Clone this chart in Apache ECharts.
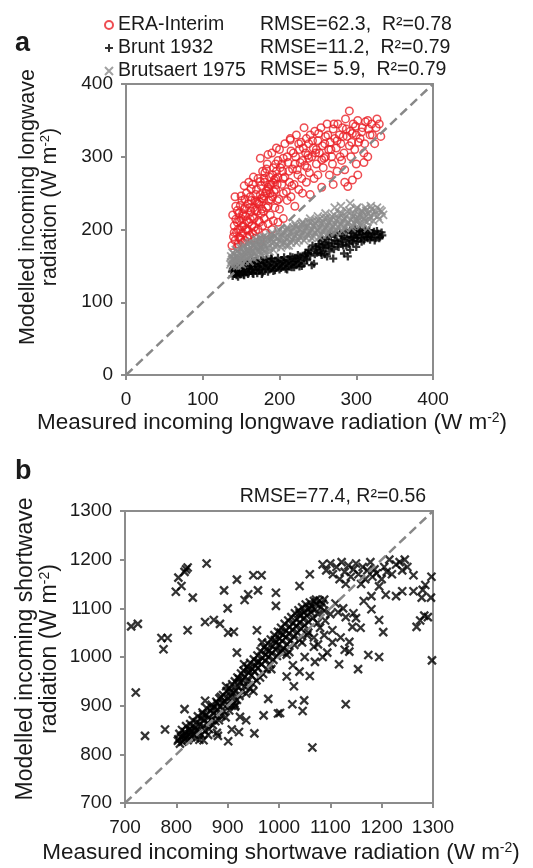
<!DOCTYPE html>
<html>
<head>
<meta charset="utf-8">
<script src="https://cdn.jsdelivr.net/npm/echarts@6.0.0/dist/echarts.min.js"></script>
<style>
html,body{margin:0;padding:0;background:#fff;}
#chart{width:533px;height:868px;}
</style>
</head>
<body>
<div id="chart"></div>
<script>
// ---------- Panel a: longwave (measured x, modelled y) ----------
const ticksA = [0, 100, 200, 300, 400];
const eraInterim = [
[138,178],[140,190],[141,205],[142,185],[143,232],[144,196],[145,210],[146,180],[147,222],[148,200],[149,188],[150,215],[151,240],[152,195],[153,205],[154,228],[155,185],[156,218],[157,250],[158,200],[159,235],[160,210],[161,192],[162,245],[163,225],[164,205],[165,262],[166,230],[167,215],[168,240],[169,198],[170,255],[171,225],[172,270],[173,235],[174,210],[175,248],[176,260],[177,228],[178,280],[179,242],[180,215],[181,265],[182,250],[183,230],[184,290],[185,258],[186,240],[187,272],[188,220],[189,262],[190,305],[191,245],[192,285],[193,268],[194,230],[195,255],[196,280],[197,240],[198,295],
[142,245],[150,246],[139,220],[183,283],[214,323],[145,176],[152,182],[158,190],[165,195],[172,200],[178,205],[185,208],[146,200],[155,230],[163,240],[170,238],[176,222],[168,188],[160,178],[152,222],[180,270],[188,250],[195,270],
[141,196],[143,214],[145,226],[147,189],[149,233],[151,204],[153,219],[155,242],[157,212],[159,198],[161,230],[163,256],[165,218],[167,203],[169,248],[171,236],[173,212],[175,266],[177,243],[179,225],[181,278],[183,253],[185,232],[187,262],[189,241],[191,275],[193,252],[195,290],[197,262],[199,242],[201,285],[203,262],[205,298],[207,272],[209,252],[211,292],[213,265],[215,308],[217,283],[219,262],[221,300],[223,282],[225,318],[227,292],[229,270],[231,312],[233,288],[235,325],[237,302],[239,278],[150,186],[156,200],[162,214],[168,226],[174,238],[180,246],[186,255],[192,264],[198,272],[204,280],[154,260],[160,265],[166,272],[175,298],[185,303],[196,312],[175,185],[182,195],[192,212],[148,212],
[200,310],[203,290],[205,270],[207,318],[210,300],[212,280],[214,325],[216,260],[218,305],[220,290],[222,330],[224,275],[226,310],[228,320],[230,295],[232,340],[234,305],[236,285],[238,318],[240,330],[242,300],[244,312],[246,335],[248,290],[250,322],[252,305],[254,340],[256,315],[258,298],[260,328],[262,345],[264,310],[266,320],[268,300],[270,338],[272,325],[274,312],[276,345],[278,330],[280,318],[282,340],[284,305],[286,352],[288,328],[291,363],[292,335],[294,320],[296,345],[298,310],[300,330],[302,350],[305,325],[308,340],[310,305],[312,348],[315,350],[318,330],[320,345],[324,318],[327,352],[332,328],
[243,322],[247,305],[251,332],[255,296],[259,318],[263,330],[267,310],[271,345],[275,322],[279,300],[283,328],[287,338],[291,315],[295,332],[299,342],[303,320],[307,334],[311,318],[316,338],[321,330],[326,340],[330,345],[257,285],[269,290],[281,295],[293,300],
[205,250],[215,245],[225,255],[235,265],[245,270],[255,258],[265,275],[275,280],[285,265],[289,259],[295,268],[302,275],[300,290],[310,292],[315,300],[285,282],[270,262],[250,275],[210,240],[220,232],[230,250],[240,248],[200,228],[205,215],[198,210],[190,200],[260,300],[248,310],[238,298]
];
const brunt1932 = [
[138,142],[139,136],[140,147],[141,139],[142,144],[143,150],[144,137],[145,143],[146,148],[147,140],[148,152],[149,138],[150,145],[151,149],[152,141],[153,154],[154,137],[155,146],[156,151],[157,142],[158,155],[159,139],[160,147],[162,152],[163,143],[164,156],[165,140],[166,149],[168,153],[169,144],[170,157],[171,140],[172,148],[174,154],[175,145],[176,158],[178,141],[179,150],[180,155],[182,146],[183,159],[185,142],[186,151],[188,156],[189,147],[190,160],[192,143],[193,152],[195,157],[196,148],[198,161],[200,145],[201,153],[203,158],[204,149],[206,162],[208,146],[209,154],[211,159],[212,150],[214,163],[216,148],[218,155],[220,160],[222,151],[224,165],[226,149],[228,157],[230,162],[232,153],[234,168],[236,158],[238,172],[240,164],[242,151],[245,153],[247,176],[249,168],[251,180],[253,171],[255,184],[257,175],[259,166],[261,187],[263,178],[265,170],[267,190],[269,181],[271,173],[273,193],[275,184],[277,176],[279,195],[281,186],[283,178],[284,167],[286,197],[288,188],[289,163],[290,180],[292,199],[294,190],[296,182],[298,201],[300,192],[302,184],[304,198],[306,188],[308,194],[310,185],[312,200],[314,190],[316,196],[318,186],[320,193],[323,197],[325,188],[328,194],[331,190],[334,192],[300,176],[292,172],[270,160],[262,163],[255,165],
[139,145],[141,150],[143,141],[146,135],[148,146],[150,152],[153,138],[155,143],[157,155],[160,141],[161,150],[164,146],[166,139],[167,157],[170,150],[173,144],[175,152],[177,139],[179,158],[181,148],[184,153],[187,145],[189,160],[191,150],[194,144],[197,155],[199,150],[202,147],[205,156],[207,152],[210,145],[213,157],[215,152],[217,162],[219,148],[221,156],[223,160],[225,154],[227,163],[229,150],[233,165],[235,160],[237,167],[241,170],[243,178],[246,166],[248,173],[252,177],[254,168],[256,186],[258,180],[260,174],[264,182],[266,192],[268,176],[272,185],[274,196],[276,180],[280,192],[282,183],[285,190],[287,178],[291,186],[293,195],[295,184],[297,190],[299,197],[301,188],[303,193],[305,200],[307,183],[309,197],[311,190],[313,195],[315,188],[317,199],[319,190],[321,195],[324,185],[327,198],[330,188],[333,196]
];
const brutsaert1975 = [
[136,152],[137,163],[138,158],[139,168],[140,150],[141,160],[142,155],[143,172],[144,162],[145,150],[146,158],[147,168],[148,154],[149,175],[150,160],[151,152],[152,170],[153,163],[154,178],[155,157],[156,166],[157,172],[158,160],[159,180],[160,168],[161,156],[162,175],[163,164],[164,183],[165,170],[166,160],[167,178],[168,167],[169,186],[170,174],[171,162],[172,180],[173,170],[174,188],[175,176],[176,165],[177,184],[178,172],[179,190],[180,178],[182,168],[184,186],[186,175],[188,193],[190,182],[192,172],[194,190],[196,180],[198,196],[200,185],[202,175],[204,192],[206,182],[208,199],[210,188],[212,178],[214,196],[216,186],[218,203],[220,192],[222,182],[224,200],[226,190],[228,207],[230,196],[232,185],[234,203],[236,193],[238,210],[240,198],[242,188],[244,205],[246,195],[248,212],[250,200],[252,190],[254,208],[256,197],[258,215],[260,203],[262,193],[264,210],[266,200],[268,218],[270,205],[272,196],[274,213],[276,203],[278,222],[280,208],[282,198],[284,215],[286,205],[288,225],[290,210],[292,236],[294,202],[296,218],[298,208],[300,228],[302,212],[304,220],[306,205],[308,224],[310,215],[312,230],[314,210],[316,222],[318,218],[320,228],[322,212],[325,225],[328,218],[331,227],[335,220],[272,230],[280,232],[260,222],[250,218],[300,215],[315,202],[240,215],[230,210],[220,208],[210,203],
[137,155],[139,160],[141,166],[143,158],[145,170],[147,162],[149,156],[151,165],[153,175],[155,168],[157,163],[159,172],[161,182],[163,170],[165,178],[167,168],[169,176],[171,185],[173,177],[175,170],[177,188],[179,180],[181,172],[183,190],[185,181],[187,170],[189,186],[191,195],[193,183],[195,176],[197,188],[199,200],[201,190],[203,180],[205,196],[207,188],[209,178],[211,200],[213,190],[215,182],[217,198],[219,188],[221,205],[223,195],[225,185],[227,200],[229,192],[231,208],[233,198],[235,188],[237,205],[239,195],[241,210],[243,200],[245,190],[247,208],[249,198],[251,213],[253,203],[255,193],[257,210],[259,200],[261,216],[263,206],[265,196],[267,213],[269,203],[271,220],[273,208],[275,198],[277,216],[279,206],[281,222],[283,212],[285,202],[287,218],[289,208],[291,226],[293,214],[295,205],[297,222],[299,212],[301,230],[303,216],[305,208],[307,226],[309,218],[311,212],[313,226],[317,214],[319,232],[323,220],[327,230],[330,214],[333,225]
];
const oneToOneA = [[0,0],[400,400]];

// ---------- Panel b: shortwave ----------
const ticksB = [700, 800, 900, 1000, 1100, 1200, 1300];
const shortwave = [
[803,828],[806,842],[807,822],[809,835],[811,850],[812,826],[814,838],[816,831],[817,846],[819,858],[821,836],[822,829],[824,850],[826,842],[827,862],[829,835],[831,848],[832,870],[834,841],[836,856],[837,833],[839,866],[841,851],[842,878],[844,845],[846,862],[848,873],[849,840],[851,886],[853,858],[854,870],[856,848],[858,880],[859,895],[861,864],[863,876],[864,852],[866,890],[868,871],[869,902],[871,860],[873,884],[874,896],[876,868],[878,908],[879,880],[881,892],[883,870],[884,915],[886,898],[888,879],[889,905],[891,922],[893,888],[894,910],[896,876],[898,930],[899,902],[901,915],[903,890],[904,936],[906,918],[908,900],[909,944],[911,926],[913,905],[914,950],[916,931],[918,912],[919,958],[921,938],[923,920],[924,947],[926,966],[928,930],[929,953],[931,972],[933,940],[934,960],[936,925],[938,980],[939,950],[941,968],[943,935],[944,988],[946,962],[948,975],[949,945],[951,995],[953,970],[954,982],[956,952],[958,1003],[959,978],[961,990],[963,958],[964,1012],[966,985],[968,998],[969,965],[971,1020],[973,992],[974,1005],[976,975],[978,1028],[979,1000],[981,1013],[983,985],[984,1036],[986,1008],[988,1022],[989,994],[991,1045],[993,1015],[994,1030],[996,1002],[998,1052],[999,1025],[1001,1038],[1003,1010],[1004,1060],[1006,1033],[1008,1046],[1009,1018],[1011,1068],[1013,1040],[1014,1055],[1016,1026],[1018,1075],[1019,1048],[1021,1062],[1023,1034],[1024,1082],[1026,1055],[1028,1070],[1029,1042],[1031,1090],[1033,1063],[1035,1078],[1036,1050],[1038,1096],[1040,1070],[1042,1085],[1043,1058],[1045,1102],[1047,1078],[1049,1092],[1050,1065],[1052,1108],[1054,1085],[1056,1098],[1058,1072],[1060,1112],[1062,1092],[1064,1104],[1066,1080],[1068,1115],[1070,1098],[1073,1108],[1076,1088],[1079,1116],[1082,1102],[1085,1110],[1088,1095],
[845,830],[862,840],[880,905],[897,940],[915,900],[932,985],[950,930],[967,1030],[985,975],[1003,1050],[1020,1010],[1040,1035],[1057,1050],[1075,1070],[1005,1012],[1015,1005],[1030,1025],[1045,1030],[1055,1045],[1068,1040],[1080,1060],[1090,1075],[1072,1118],[1088,1118],[1060,1100],[1040,1090],[818,840],[826,852],[838,848],[852,882],[870,895],[887,918],[905,928],[922,955],[940,975],[957,990],[975,1015],[992,1035],
[853,829],[879,844],[881,838],[901,827],[908,851],[922,846],[936,870],[952,843],[979,914],[998,884],[856,910],[816,893],[804,831],[778,851],[739,838],[721,927],[918,1009],[957,1055],[912,1052],[901,1050],[885,1068],[873,1076],[856,1072],[822,1055],[775,1016],[771,1039],[783,1039],[725,1068],[712,1063],[994,1105],[994,1132],[900,1100],[933,1117],[940,1129],[959,1137],[893,1137],[950,1168],[966,1168],[918,1159],[832,1122],[799,1134],[810,1146],[804,1163],[819,1180],[822,1184],[816,1175],[859,1192],[924,877],[914,898],[970,880],
[1100,1088],[1115,1092],[1130,1082],[1145,1090],[1150,1080],[1143,1062],[1159,1060],[1137,1031],[1137,1011],[1117,985],[1154,975],[1174,1004],[1195,1000],[1094,1009],[1104,1030],[1088,1045],[1104,1055],[1068,1021],[1076,1026],[1128,1015],[1060,961],[1029,940],[1026,903],[1046,889],[1049,911],[1130,903],[1065,814],[1027,983],[1002,885],[1110,1110],[1125,1100],[1165,1115],[1180,1098],[1120,1040],[1085,1000],[1070,990],[1050,1000],[1040,970],[1015,960],[1180,1125],[1060,1170],[1040,1146],
[1085,1190],[1092,1178],[1100,1192],[1105,1170],[1112,1185],[1118,1160],[1122,1195],[1128,1175],[1130,1150],[1135,1188],[1140,1165],[1145,1180],[1150,1192],[1155,1170],[1160,1150],[1163,1185],[1168,1160],[1172,1178],[1178,1195],[1182,1165],[1186,1180],[1190,1172],[1195,1145],[1200,1160],[1205,1185],[1210,1175],[1215,1200],[1220,1170],[1228,1190],[1235,1195],[1240,1178],[1245,1200],[1250,1185],[1262,1168],[1240,1135],[1262,1135],[1280,1138],[1278,1122],[1296,1122],[1290,1082],[1268,1062],[1283,1085],[1275,1075],[1297,1165],[1285,1148],[1228,1125],[1208,1128],[1195,1076],[1203,1051],[1298,993]
];
const oneToOneB = [[700,700],[1300,1300]];

const legendNames = ['ERA-Interim', 'Brunt 1932', 'Brutsaert 1975'];
const statsA = ['RMSE=62.3,  R\u00B2=0.78', 'RMSE=11.2,  R\u00B2=0.79', 'RMSE= 5.9,  R\u00B2=0.79'];
const statsB = 'RMSE=77.4, R\u00B2=0.56';

const FONT = 'Liberation Sans, Arial, sans-serif';
const AX = '#8c8c8c';
const TXT = '#1a1a1a';
const PLUS = 'path://M5,0L5,10M0,5L10,5';
const CROSS = 'path://M0,0L10,10M10,0L0,10';

function axis(grid, min, max, interval, margin) {
  return {
    type: 'value', gridIndex: grid, min: min, max: max, interval: interval,
    axisLine: {show: true, lineStyle: {color: AX, width: 2}},
    axisTick: {show: true, inside: false, length: 5, lineStyle: {color: AX, width: 2}},
    axisLabel: {fontSize: 19, color: TXT, fontFamily: FONT, margin: margin, formatter: function (v) { return String(v); }},
    splitLine: {show: false}
  };
}

function richOf(size) {
  return {
    t: {fontSize: size, fontFamily: FONT, color: TXT, lineHeight: size + 1},
    s: {fontSize: Math.round(size * 0.6), fontFamily: FONT, color: TXT, verticalAlign: 'top', lineHeight: Math.round(size * 0.6)}
  };
}

function txt(x, y, text, opts) {
  return Object.assign({type: 'text', x: x, y: y, silent: true,
    style: Object.assign({text: text, fontSize: 19.5, fontFamily: FONT, fill: TXT, align: 'left', verticalAlign: 'middle'}, opts || {})});
}

const chart = echarts.init(document.getElementById('chart'), null, {renderer: 'canvas'});

chart.setOption({
  animation: false,
  backgroundColor: '#fff',
  grid: [
    {left: 126, top: 84, width: 307, height: 291, show: true, borderColor: AX, borderWidth: 2, backgroundColor: 'transparent'},
    {left: 125, top: 511, width: 308, height: 292, show: true, borderColor: AX, borderWidth: 2, backgroundColor: 'transparent'}
  ],
  xAxis: [axis(0, ticksA[0], ticksA[ticksA.length-1], 100, 15), axis(1, ticksB[0], ticksB[ticksB.length-1], 100, 15)],
  yAxis: [axis(0, ticksA[0], ticksA[ticksA.length-1], 100, 13), axis(1, ticksB[0], ticksB[ticksB.length-1], 100, 13)],
  legend: {
    data: legendNames, orient: 'vertical', left: 104, top: 15, itemGap: 3, padding: 0,
    itemWidth: 8, itemHeight: 8, selectedMode: false,
    textStyle: {fontSize: 19.5, color: TXT, fontFamily: FONT}
  },
  series: [
    {name: legendNames[0], type: 'scatter', xAxisIndex: 0, yAxisIndex: 0, data: eraInterim,
      symbol: 'circle', symbolSize: 7.5, silent: true,
      itemStyle: {color: 'rgba(0,0,0,0)', borderColor: '#ea2027', borderWidth: 1.5}},
    {name: legendNames[1], type: 'scatter', xAxisIndex: 0, yAxisIndex: 0, data: brunt1932,
      symbol: PLUS, symbolSize: 8, silent: true,
      itemStyle: {color: 'rgba(0,0,0,0)', borderColor: '#000', borderWidth: 2.3}},
    {name: legendNames[2], type: 'scatter', xAxisIndex: 0, yAxisIndex: 0, data: brutsaert1975,
      symbol: CROSS, symbolSize: 8, silent: true,
      itemStyle: {color: 'rgba(0,0,0,0)', borderColor: '#8a8a8a', borderWidth: 1.8}},
    {type: 'line', xAxisIndex: 0, yAxisIndex: 0, data: oneToOneA, symbol: 'none', silent: true, z: 5,
      lineStyle: {color: '#888', width: 2.5, type: [9, 5]}},
    {type: 'scatter', xAxisIndex: 1, yAxisIndex: 1, data: shortwave,
      symbol: CROSS, symbolSize: 8, silent: true,
      itemStyle: {color: 'rgba(0,0,0,0)', borderColor: '#000', borderWidth: 2.3}},
    {type: 'line', xAxisIndex: 1, yAxisIndex: 1, data: oneToOneB, symbol: 'none', silent: true, z: 5,
      lineStyle: {color: '#888', width: 2.5, type: [9, 5]}}
  ],
  graphic: [
    txt(15, 44, 'a', {fontSize: 27, fontWeight: 'bold'}),
    txt(15, 472, 'b', {fontSize: 27, fontWeight: 'bold'}),
    txt(260, 25, statsA[0]),
    txt(260, 48, statsA[1]),
    txt(260, 70, statsA[2]),
    txt(333, 497, statsB, {align: 'center'}),
    txt(272, 423, '{t|Measured incoming longwave radiation (W m}{s|-2}{t|)}', {align: 'center', rich: richOf(22.5)}),
    txt(281, 853, '{t|Measured incoming shortwave radiation (W m}{s|-2}{t|)}', {align: 'center', rich: richOf(22.5)}),
    Object.assign(txt(39, 207, '{t|Modelled incoming longwave}\n{t|radiation (W m}{s|-2}{t|)}', {align: 'center', rich: richOf(21.5)}), {rotation: Math.PI/2}),
    Object.assign(txt(38, 649, '{t|Modelled incoming shortwave}\n{t|radiation (W m}{s|-2}{t|)}', {align: 'center', rich: richOf(23)}), {rotation: Math.PI/2})
  ]
});
</script>
</body>
</html>
